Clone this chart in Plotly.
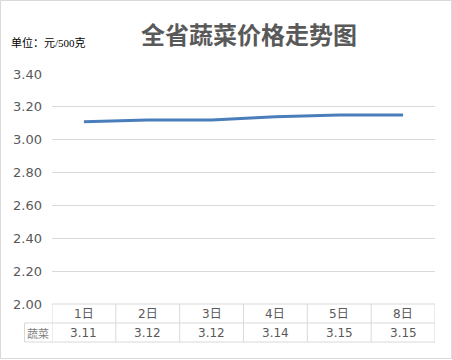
import plotly.graph_objects as go

days = ["1日", "2日", "3日", "4日", "5日", "8日"]
prices = [3.11, 3.12, 3.12, 3.14, 3.15, 3.15]
row_label = "蔬菜"
title_text = "全省蔬菜价格走势图"
unit_text = "单位：元/500克"

W, H = 452, 360
ML, MR, MT, MB = 52, 17, 74, 56
PW, PH = W - ML - MR, H - MT - MB

def px_y(py):
    return (H - MB - py) / PH

def px_x(px):
    return (px - ML) / PW

fig = go.Figure()
fig.add_trace(go.Scatter(
    x=days, y=prices, mode="lines",
    line=dict(color="#4A7EBB", width=3),
    hoverinfo="skip", showlegend=False,
))

grey = "#595959"
border = "#D9D9D9"
shapes = []
annotations = []

# table horizontal lines
shapes.append(dict(type="line", xref="paper", yref="paper", x0=0, x1=1,
                   y0=px_y(304), y1=px_y(304), line=dict(color=border, width=1)))
shapes.append(dict(type="line", xref="paper", yref="paper", x0=px_x(24.5), x1=1,
                   y0=px_y(323), y1=px_y(323), line=dict(color=border, width=1)))
shapes.append(dict(type="line", xref="paper", yref="paper", x0=px_x(24.5), x1=1,
                   y0=px_y(342), y1=px_y(342), line=dict(color=border, width=1)))
# vertical lines
for i in range(len(days) + 1):
    shapes.append(dict(type="line", xref="x", yref="paper", x0=i - 0.5, x1=i - 0.5,
                       y0=px_y(342), y1=px_y(304), line=dict(color=border, width=1)))
shapes.append(dict(type="line", xref="paper", yref="paper", x0=px_x(24.5), x1=px_x(24.5),
                   y0=px_y(342), y1=px_y(323), line=dict(color=border, width=1)))
# outer border
shapes.append(dict(type="rect", xref="paper", yref="paper", x0=px_x(0.5), x1=px_x(451.5),
                   y0=px_y(358.5), y1=px_y(0.5), line=dict(color=border, width=1)))

def ann(**kw):
    base = dict(showarrow=False, xanchor="center", yanchor="middle")
    base.update(kw)
    annotations.append(base)

for d, p in zip(days, prices):
    ann(x=d, y=px_y(313.5), xref="x", yref="paper", text=d,
        font=dict(size=12, color=grey, family="DejaVu Sans, Noto Sans CJK SC"))
    ann(x=d, y=px_y(332.5), xref="x", yref="paper", text=f"{p:.2f}",
        font=dict(size=12, color=grey, family="DejaVu Sans, Noto Sans CJK SC"))
ann(x=px_x(38), y=px_y(332.5), xref="paper", yref="paper", text=row_label,
    font=dict(size=11, color="#7F7F7F", family="Noto Sans CJK SC"))
ann(x=px_x(249), y=px_y(34), xref="paper", yref="paper",
    text="<b>" + title_text + "</b>",
    font=dict(size=24, color=grey, family="Noto Sans CJK SC"))
ann(x=px_x(9), y=px_y(43), xref="paper", yref="paper", xanchor="left",
    text=unit_text,
    font=dict(size=11, color="#000000", family="Liberation Serif, Noto Sans CJK SC"))

fig.update_layout(
    width=W, height=H,
    margin=dict(l=ML, r=MR, t=MT, b=MB),
    paper_bgcolor="white", plot_bgcolor="white",
    xaxis=dict(type="category", range=[-0.5, 5.5], showticklabels=False,
               showgrid=False, zeroline=False, showline=False, fixedrange=True),
    yaxis=dict(range=[2.0, 3.4], dtick=0.2, tick0=2.0, tickformat=".2f",
               showgrid=True, gridcolor=border, gridwidth=1, zeroline=False,
               showline=False, ticks="", ticklabelstandoff=9,
               tickfont=dict(size=13, color=grey, family="DejaVu Sans")),
    shapes=shapes, annotations=annotations,
)

fig.write_html("out.html")
